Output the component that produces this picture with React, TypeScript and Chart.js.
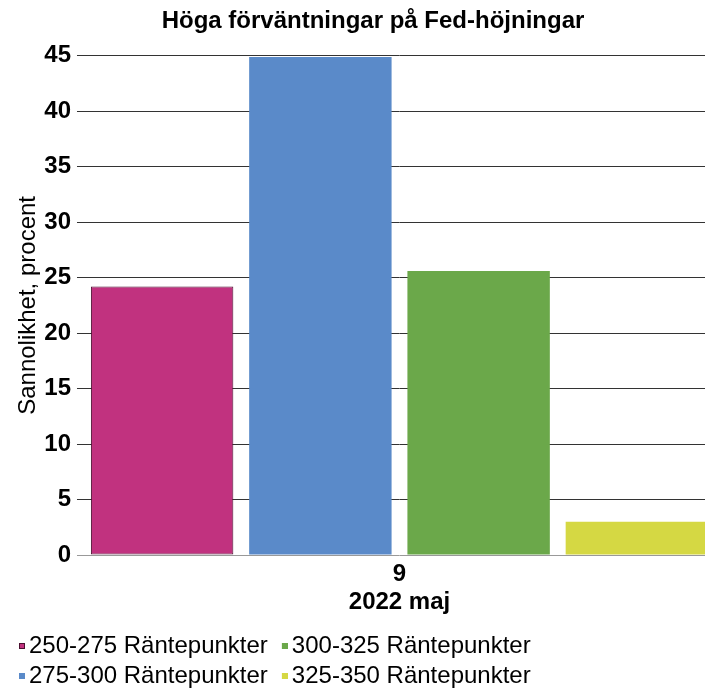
import React, { useEffect, useRef } from "react";
import { Chart, registerables } from "chart.js";

Chart.register(...registerables);

const title = "Höga förväntningar på Fed-höjningar";
const categories = ["9"];
const xAxisTitle = "2022 maj";
const yAxisTitle = "Sannolikhet, procent";
const seriesNames = [
  "250-275 Räntepunkter",
  "275-300 Räntepunkter",
  "300-325 Räntepunkter",
  "325-350 Räntepunkter",
];
const seriesValues = [24.2, 44.9, 25.6, 3.0];
const seriesColors = ["#C1327F", "#5A8AC9", "#6BA84A", "#D5D843"];
const seriesBorders = ["#4A1030", "#5A8AC9", "#6BA84A", "#D5D843"];
const seriesBorderWidths = [1, 0, 0, 0];
const legendOrder = [0, 2, 1, 3];
const yMin = 0;
const yMax = 45;
const yStep = 5;

const FONT = "'Liberation Sans', Arial, sans-serif";

function makeMarker(fill: string, stroke: string, bw: number) {
  const c = document.createElement("canvas");
  c.width = 22;
  c.height = 6;
  const g = c.getContext("2d")!;
  g.fillStyle = fill;
  g.fillRect(16, 0, 6, 6);
  if (bw > 0) {
    g.strokeStyle = stroke;
    g.lineWidth = 1;
    g.strokeRect(16.5, 0.5, 5, 5);
  }
  return c;
}

export default function App() {
  const ref = useRef<HTMLCanvasElement | null>(null);

  useEffect(() => {
    if (!ref.current) return;
    const markers = seriesNames.map((_, i) =>
      makeMarker(seriesColors[i], seriesBorders[i], seriesBorderWidths[i])
    );
    const chart = new Chart(ref.current, {
      type: "bar",
      data: {
        labels: categories,
        datasets: seriesNames.map((name, i) => ({
          label: name,
          data: [seriesValues[i]],
          backgroundColor: seriesColors[i],
          borderColor: seriesBorders[i],
          borderWidth: seriesBorderWidths[i],
          borderSkipped: false,
          categoryPercentage: 1.0,
          barPercentage: 0.9,
        })),
      },
      options: {
        animation: false,
        responsive: false,
        devicePixelRatio: 1,
        layout: { padding: { left: 5, right: 0, top: 0, bottom: 0 } },
        plugins: {
          title: {
            display: true,
            text: title,
            color: "#000",
            font: { family: FONT, size: 24, weight: "bold", lineHeight: 1.2 },
            padding: { top: 7, bottom: 20 },
          },
          legend: {
            position: "bottom",
            align: "start",
            labels: {
              color: "#000",
              font: { family: FONT, size: 24 },
              usePointStyle: true,
              boxWidth: 6,
              boxHeight: 6,
              padding: 6,
              generateLabels: (c: any) => {
                const items = (Chart.defaults.plugins.legend.labels as any).generateLabels(c);
                items.forEach((it: any) => {
                  it.pointStyle = markers[it.datasetIndex];
                });
                return items;
              },
              sort: (a: any, b: any) =>
                legendOrder.indexOf(a.datasetIndex) - legendOrder.indexOf(b.datasetIndex),
            },
          },
          tooltip: { enabled: false },
        },
        scales: {
          x: {
            grid: { display: false, drawTicks: false },
            border: { display: false },
            ticks: {
              color: "#000",
              font: { family: FONT, size: 24, weight: "bold", lineHeight: 1 },
              padding: 7,
            },
            title: {
              display: true,
              text: xAxisTitle,
              color: "#000",
              font: { family: FONT, size: 24, weight: "bold", lineHeight: 0.75 },
              padding: { top: 0, bottom: 17 },
            },
          },
          y: {
            min: yMin,
            max: yMax,
            grid: {
              color: (ctx: any) => (ctx.tick && ctx.tick.value === 0 ? "#999999" : "#333333"),
              lineWidth: 1,
              drawTicks: true,
              tickLength: 6,
            },
            border: { display: false },
            ticks: {
              stepSize: yStep,
              color: "#000",
              font: { family: FONT, size: 24, weight: "bold" },
              padding: 6,
            },
            title: {
              display: true,
              text: yAxisTitle,
              color: "#000",
              font: { family: FONT, size: 24, lineHeight: 0.8 },
              padding: { top: 13.4, bottom: 0.7 },
            },
          },
          y2: {
            position: "right",
            display: true,
            grid: { display: false, drawTicks: false },
            border: { display: false },
            ticks: { display: false },
            afterFit: (scale: any) => {
              scale.width = 25;
            },
          },
        },
      },
    });
    return () => chart.destroy();
  }, []);

  return (
    <div
      style={{
        position: "fixed",
        left: 0,
        top: 0,
        width: 705,
        height: 688,
        overflow: "hidden",
        background: "#fff",
      }}
    >
      <canvas ref={ref} width={741} height={698} style={{ display: "block", width: 741, height: 698 }} />
    </div>
  );
}
